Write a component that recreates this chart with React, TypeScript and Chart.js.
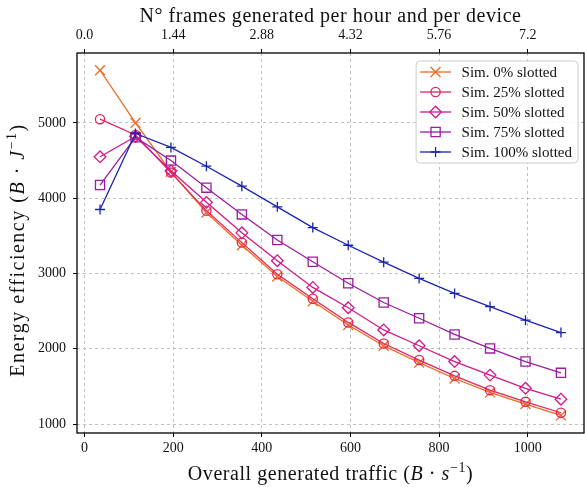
import React, { useEffect, useRef } from 'react';
import { Chart, registerables } from 'chart.js';

Chart.register(...registerables);

// ---------- data ----------
const traffic = [35, 115, 195, 275, 355, 435, 515, 595, 675, 755, 835, 915, 995, 1075];
const sim0 = [5700, 5000, 4350, 3810, 3375, 2960, 2630, 2315, 2040, 1815, 1605, 1420, 1265, 1115];
const sim25 = [5050, 4840, 4340, 3835, 3410, 2990, 2665, 2350, 2070, 1850, 1640, 1450, 1295, 1150];
const sim50 = [4550, 4820, 4365, 3945, 3540, 3170, 2815, 2545, 2250, 2040, 1830, 1650, 1475, 1330];
const sim75 = [4175, 4810, 4500, 4140, 3785, 3445, 3155, 2870, 2615, 2405, 2190, 2005, 1830, 1680];
const sim100 = [3850, 4860, 4675, 4425, 4160, 3885, 3610, 3375, 3150, 2935, 2735, 2560, 2380, 2215];

const seriesLabels = ['Sim. 0% slotted', 'Sim. 25% slotted', 'Sim. 50% slotted', 'Sim. 75% slotted', 'Sim. 100% slotted'];
const seriesValues = [sim0, sim25, sim50, sim75, sim100];
const seriesColors = ['#ee6a22', '#e4245a', '#d0188c', '#9a1ea0', '#1a24b0'];
const seriesMarkers = ['crossRot', 'circle', 'rectRot', 'rect', 'cross'];
const seriesRadius = [7, 4.6, 5.8, 6.5, 5];

const xTicks = [0, 200, 400, 600, 800, 1000];
const topTickLabels = ['0.0', '1.44', '2.88', '4.32', '5.76', '7.2'];
const yTicks = [1000, 2000, 3000, 4000, 5000];

type Seg = { t: string; s?: 'i' | 'sup' };
const topTitle: Seg[] = [{ t: 'N° frames generated per hour and per device' }];
const xTitle: Seg[] = [{ t: 'Overall generated traffic (' }, { t: 'B', s: 'i' }, { t: ' · ' }, { t: 's', s: 'i' }, { t: '−1', s: 'sup' }, { t: ')' }];
const yTitle: Seg[] = [{ t: 'Energy efficiency (' }, { t: 'B', s: 'i' }, { t: ' · ' }, { t: 'J', s: 'i' }, { t: '−1', s: 'sup' }, { t: ')' }];

const FONT = "'Liberation Serif', 'Times New Roman', serif";
const TXT = '#111';
const TITLE_SIZE = 20;

function segFont(seg: Seg) {
  if (seg.s === 'i') return `italic ${TITLE_SIZE}px ${FONT}`;
  if (seg.s === 'sup') return `${Math.round(TITLE_SIZE * 0.7)}px ${FONT}`;
  return `${TITLE_SIZE}px ${FONT}`;
}

function drawRich(ctx: any, segs: Seg[], spacing: number) {
  ctx.letterSpacing = `${spacing}px`;
  const widths = segs.map((seg) => { ctx.font = segFont(seg); return ctx.measureText(seg.t).width; });
  const total = widths.reduce((a, b) => a + b, 0);
  let x = -total / 2;
  ctx.fillStyle = TXT;
  ctx.textAlign = 'left';
  ctx.textBaseline = 'alphabetic';
  segs.forEach((seg, i) => {
    ctx.font = segFont(seg);
    ctx.fillText(seg.t, x, seg.s === 'sup' ? -TITLE_SIZE * 0.38 : 0);
    x += widths[i];
  });
}

const titlesPlugin = {
  id: 'richTitles',
  afterDraw(chart: any) {
    const { ctx, chartArea: a } = chart;
    const cx = (a.left + a.right) / 2;
    ctx.save();
    ctx.translate(cx, a.top - 31);
    drawRich(ctx, topTitle, 0.55);
    ctx.restore();
    ctx.save();
    ctx.translate(cx, a.bottom + 47);
    drawRich(ctx, xTitle, 0.55);
    ctx.restore();
    ctx.save();
    ctx.translate(23.5, 250);
    ctx.rotate(-Math.PI / 2);
    drawRich(ctx, yTitle, 1.5);
    ctx.restore();
  },
};

function drawMarker(ctx: CanvasRenderingContext2D, style: string, x: number, y: number, r: number) {
  ctx.beginPath();
  if (style === 'crossRot') {
    const d = r * Math.SQRT1_2;
    ctx.moveTo(x - d, y - d); ctx.lineTo(x + d, y + d);
    ctx.moveTo(x - d, y + d); ctx.lineTo(x + d, y - d);
  } else if (style === 'circle') {
    ctx.arc(x, y, r, 0, Math.PI * 2);
  } else if (style === 'rectRot') {
    ctx.moveTo(x, y - r); ctx.lineTo(x + r, y); ctx.lineTo(x, y + r); ctx.lineTo(x - r, y); ctx.closePath();
  } else if (style === 'rect') {
    const s = r * Math.SQRT1_2;
    ctx.rect(x - s, y - s, 2 * s, 2 * s);
  } else {
    ctx.moveTo(x, y - r); ctx.lineTo(x, y + r);
    ctx.moveTo(x - r, y); ctx.lineTo(x + r, y);
  }
  ctx.stroke();
}

const framePlugin = {
  id: 'frame',
  afterDatasetsDraw(chart: any) {
    const { ctx, chartArea: a } = chart;
    ctx.save();
    ctx.strokeStyle = '#000';
    ctx.lineWidth = 1.3;
    ctx.strokeRect(a.left, a.top, a.right - a.left, a.bottom - a.top);
    ctx.restore();
  },
};

const legendPlugin = {
  id: 'boxLegend',
  afterDraw(chart: any) {
    const { ctx, chartArea: a } = chart;
    const ds = chart.data.datasets;
    ctx.save();
    ctx.font = `15px ${FONT}`;
    const textW = Math.max(...ds.map((d: any) => ctx.measureText(d.label).width));
    const rowH = 20;
    const w = 4 + 31 + 10.5 + textW + 6;
    const h = ds.length * rowH + 2;
    const x0 = a.right - 6 - w;
    const y0 = a.top + 8;
    ctx.beginPath();
    if ((ctx as any).roundRect) (ctx as any).roundRect(x0, y0, w, h, 4);
    else ctx.rect(x0, y0, w, h);
    ctx.fillStyle = 'rgba(255,255,255,0.85)';
    ctx.fill();
    ctx.strokeStyle = '#cccccc';
    ctx.lineWidth = 1;
    ctx.stroke();
    ds.forEach((d: any, i: number) => {
      const cy = y0 + 11 + i * rowH;
      ctx.strokeStyle = d.borderColor;
      ctx.lineWidth = 1.3;
      ctx.beginPath();
      ctx.moveTo(x0 + 4, cy);
      ctx.lineTo(x0 + 35, cy);
      ctx.stroke();
      drawMarker(ctx, d.pointStyle, x0 + 19.5, cy, d.pointRadius);
      ctx.fillStyle = TXT;
      ctx.textBaseline = 'middle';
      ctx.textAlign = 'left';
      ctx.fillText(d.label, x0 + 45.5, cy + 1);
    });
    ctx.restore();
  },
};

const zeroPad = (s: any) => { s.paddingLeft = 0; s.paddingRight = 0; s.paddingTop = 0; s.paddingBottom = 0; };

export default function App() {
  const ref = useRef<HTMLCanvasElement | null>(null);

  useEffect(() => {
    if (!ref.current) return;
    const datasets = seriesLabels.map((label, k) => ({
      label,
      data: traffic.map((x, i) => ({ x, y: seriesValues[k][i] })),
      borderColor: seriesColors[k],
      backgroundColor: seriesColors[k],
      borderWidth: 1.3,
      pointStyle: seriesMarkers[k],
      pointRadius: seriesRadius[k],
      pointHoverRadius: seriesRadius[k],
      pointBorderColor: seriesColors[k],
      pointBackgroundColor: 'rgba(0,0,0,0)',
      pointBorderWidth: 1.3,
      fill: false,
      tension: 0,
      order: 5 - k,
    }));

    const tickFont = { family: FONT, size: 14 };

    const chart = new Chart(ref.current, {
      type: 'line',
      data: { datasets },
      plugins: [framePlugin, legendPlugin, titlesPlugin],
      options: {
        animation: false,
        responsive: false,
        layout: { autoPadding: false, padding: { left: 0, right: 1, top: 0, bottom: 0 } },
        plugins: { legend: { display: false }, tooltip: { enabled: false } },
        scales: {
          x: {
            type: 'linear',
            position: 'bottom',
            min: -17,
            max: 1127,
            afterBuildTicks: (s: any) => { s.ticks = xTicks.map((v) => ({ value: v })); },
            afterFit: (s: any) => { s.height = 54; zeroPad(s); },
            ticks: { callback: (v: any) => String(v), font: tickFont, color: TXT, padding: 3, maxRotation: 0, autoSkip: false },
            grid: { color: '#b0b0b0', lineWidth: 0.8, tickColor: '#000', tickLength: 4, tickWidth: 1, tickBorderDash: [] },
            border: { display: false, dash: [3, 3] },
            title: { display: false },
          },
          x2: {
            type: 'linear',
            position: 'top',
            min: -17,
            max: 1127,
            afterBuildTicks: (s: any) => { s.ticks = xTicks.map((v) => ({ value: v })); },
            afterFit: (s: any) => { s.height = 53; zeroPad(s); },
            ticks: { callback: (_v: any, i: number) => topTickLabels[i], font: tickFont, color: TXT, padding: 5, maxRotation: 0, autoSkip: false },
            grid: { drawOnChartArea: false, tickColor: '#000', tickLength: 4, tickWidth: 1, tickBorderDash: [] },
            border: { display: false },
            title: { display: false },
          },
          y: {
            type: 'linear',
            position: 'left',
            min: 881,
            max: 5929,
            afterBuildTicks: (s: any) => { s.ticks = yTicks.map((v) => ({ value: v })); },
            afterFit: (s: any) => { s.width = 77; zeroPad(s); },
            ticks: { callback: (v: any) => String(v), font: tickFont, color: TXT, padding: 7 },
            grid: { color: '#b0b0b0', lineWidth: 0.8, tickColor: '#000', tickLength: 4, tickWidth: 1, tickBorderDash: [] },
            border: { display: false, dash: [3, 3] },
            title: { display: false },
          },
        },
      } as any,
    });
    return () => chart.destroy();
  }, []);

  return (
    <div style={{ position: 'absolute', left: 0, top: 0, width: 585, height: 487, background: '#fff' }}>
      <canvas ref={ref} width={585} height={487} style={{ display: 'block' }} />
    </div>
  );
}
